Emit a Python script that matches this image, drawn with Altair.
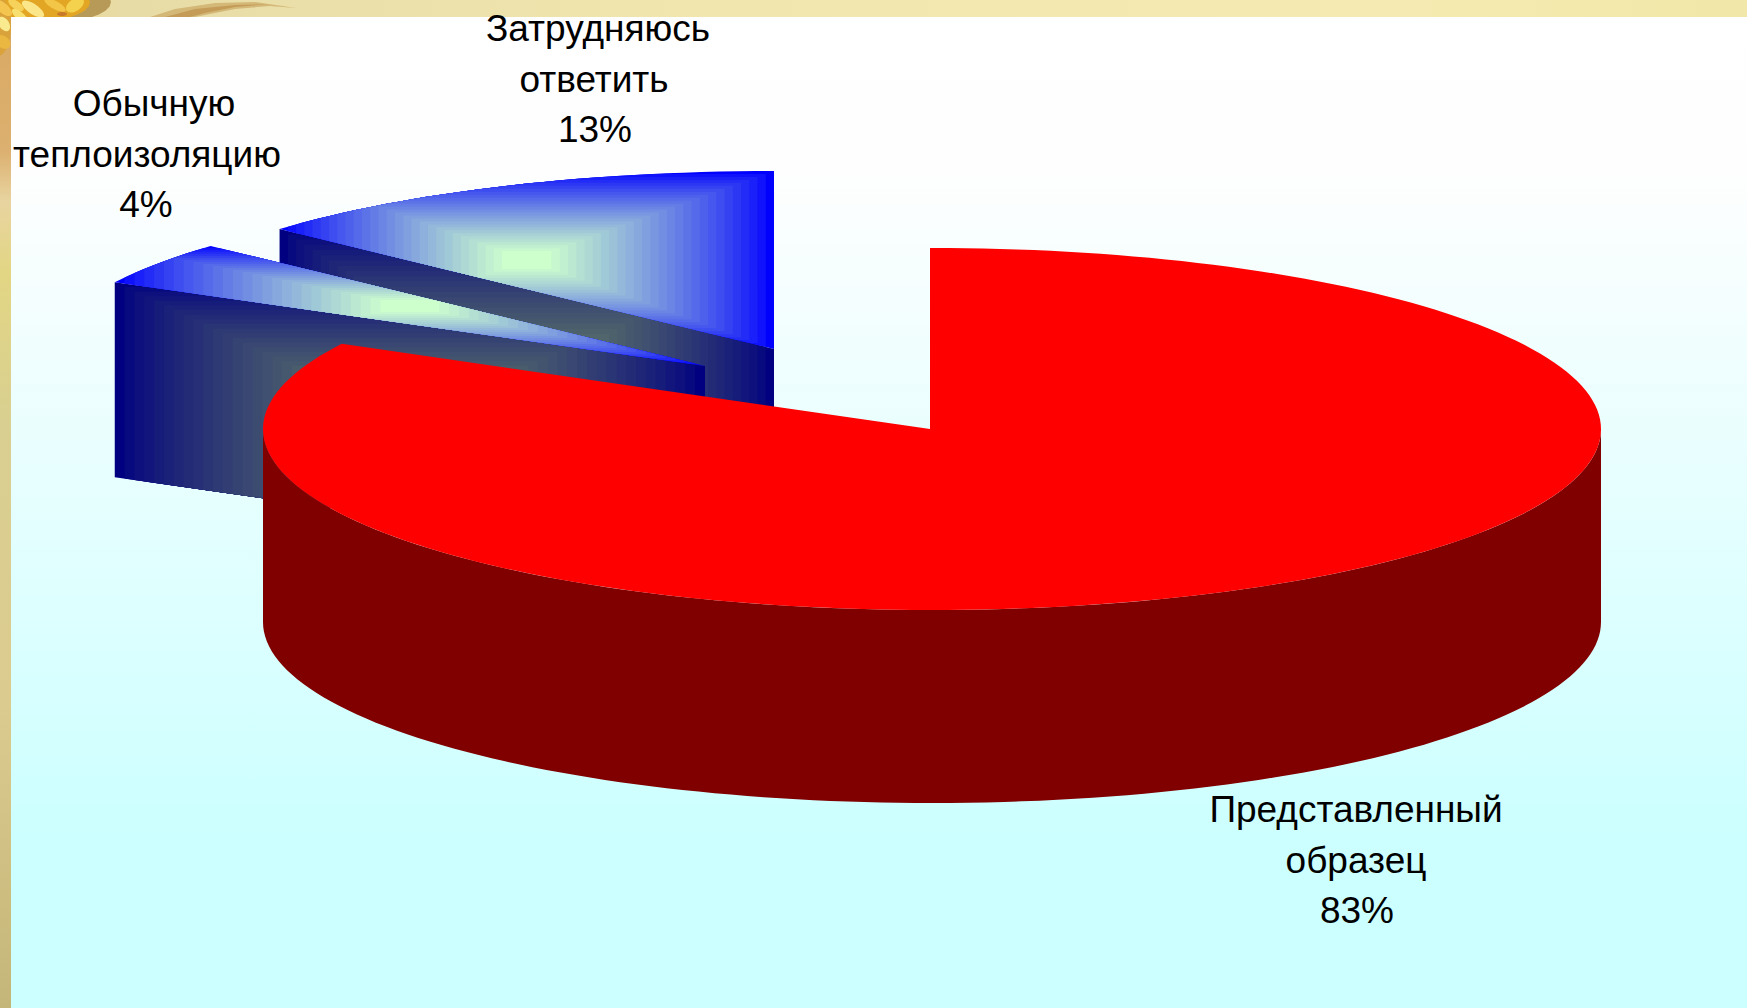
import math
import altair as alt

# Survey shares of the 3D pie, clockwise from twelve o'clock
categories = [["Представленный", "образец"], ["Обычную", "теплоизоляцию"], ["Затрудняюсь", "ответить"]]
shares = [83, 4, 13]

W, H = 1747, 1008
RX, RY, DEPTH = 669, 181, 193
RED_APEX = (930, 429)
RED_C = (932, 429)
SMALL_C = (705, 366)
BIG_C = (774, 349)
BLUE_RY, BLUE_DEPTH = 178, 195
FONT = "Liberation Sans"
PANEL_X, PANEL_Y = 11, 17


def ell(c, deg, dy=0, ry=RY):
    # Angles are foreshortened slightly by the chart's perspective
    deg = deg - 0.85 * abs(math.sin(math.radians(2 * deg)))
    a = math.radians(deg)
    return (c[0] + RX * math.sin(a), c[1] - ry * math.cos(a) + dy)


def arc(c, a0, a1, dy=0, step=1.5, ry=RY):
    n = max(2, int(abs(a1 - a0) / step))
    return [ell(c, a0 + (a1 - a0) * i / n, dy, ry) for i in range(n + 1)]


def blob(cx, cy, rx, ry, tilt=0.0, n=28):
    # Small tilted ellipse used for the decorative cob
    s, c = math.sin(tilt), math.cos(tilt)
    pts = []
    for i in range(n):
        t = 2 * math.pi * i / n
        x, y = rx * math.cos(t), ry * math.sin(t)
        pts.append((cx + x * c - y * s, cy + x * s + y * c))
    return pts


def feat(points, color=None):
    ring = [[round(x, 2), round(y, 2)] for x, y in points]
    ring.append(ring[0])
    return {"type": "Feature", "properties": {"c": color},
            "geometry": {"type": "Polygon", "coordinates": [ring]}}


def clip_rect(poly, x0, y0, x1, y1):
    # Sutherland-Hodgman against an axis-aligned rectangle
    edges = [(lambda p: p[0] >= x0, 0, x0), (lambda p: p[0] <= x1, 0, x1),
             (lambda p: p[1] >= y0, 1, y0), (lambda p: p[1] <= y1, 1, y1)]
    out = poly
    for inside, axis, val in edges:
        src, out = out, []
        for i, p in enumerate(src):
            q = src[i - 1]
            if inside(p) != inside(q):
                t = (val - q[axis]) / (p[axis] - q[axis])
                out.append((q[0] + (p[0] - q[0]) * t, q[1] + (p[1] - q[1]) * t))
            if inside(p):
                out.append(p)
        if not out:
            return []
    return out


def mix(a, b, t):
    return "#%02x%02x%02x" % tuple(round(a[i] + (b[i] - a[i]) * t) for i in range(3))


def path_gradient(poly, edge, centre, steps=30, plateau=0.9, ease=0.8):
    # Rectangular path gradient: nested bounding boxes shrinking to the centre
    xs, ys = [p[0] for p in poly], [p[1] for p in poly]
    cx, cy = (min(xs) + max(xs)) / 2, (min(ys) + max(ys)) / 2
    hw, hh = (max(xs) - min(xs)) / 2, (max(ys) - min(ys)) / 2
    feats = []
    for k in range(steps):
        t = 1 - k / steps
        part = clip_rect(poly, cx - hw * t, cy - hh * t, cx + hw * t, cy + hh * t)
        if len(part) >= 3:
            feats.append(feat(part, mix(edge, centre, min(1, (k / steps) / plateau) ** ease)))
    return feats


def shapes(features):
    return alt.Chart(alt.Data(values=features)).mark_geoshape(strokeWidth=0, stroke=None).encode(
        color=alt.Color("properties.c:N", scale=None, legend=None)
    ).project(type="identity", scale=1, translate=[0, 0])


def filled(points, fill):
    return alt.Chart(alt.Data(values=[feat(points)])).mark_geoshape(fill=fill, strokeWidth=0, stroke=None).project(
        type="identity", scale=1, translate=[0, 0])


def linear(stops, vertical=True):
    return alt.Gradient(
        gradient="linear",
        stops=[alt.GradientStop(offset=o, color=c) for o, c in stops],
        x1=0, y1=0, x2=0 if vertical else 1, y2=1 if vertical else 0,
    )


# Slice angles follow the shares
a_main = 360 * shares[0] / 100
a_small = a_main + 360 * shares[1] / 100

BLUE, MINT = (0, 0, 255), (204, 255, 204)
NAVY, SAGE = (0, 0, 128), (102, 128, 102)

big_top = [BIG_C] + arc(BIG_C, a_small, 360, ry=BLUE_RY)
big_wall = [ell(BIG_C, a_small, ry=BLUE_RY), BIG_C, (BIG_C[0], BIG_C[1] + BLUE_DEPTH), ell(BIG_C, a_small, BLUE_DEPTH, BLUE_RY)]
small_top = [SMALL_C] + arc(SMALL_C, a_main, a_small, ry=BLUE_RY)
small_wall = [ell(SMALL_C, a_main, ry=BLUE_RY), SMALL_C, (SMALL_C[0], SMALL_C[1] + BLUE_DEPTH), ell(SMALL_C, a_main, BLUE_DEPTH, BLUE_RY)]
red_top = [RED_APEX, (RED_APEX[0], RED_C[1] - RY)] + arc(RED_C, 0, a_main)
red_side = arc(RED_C, 90, 270) + arc(RED_C, 270, 90, DEPTH)

# Slide frame: straw-coloured strips, the cob and wheat ear, then the panel over them
top_strip = filled([(0, 0), (W, 0), (W, PANEL_Y), (0, PANEL_Y)],
                   linear([(0, "#e6d48e"), (0.07, "#e8dca6"), (0.4, "#f0e6ae"), (0.8, "#f5ebb2"), (1, "#f1e7a8")], vertical=False))
left_strip = filled([(0, 0), (PANEL_X, 0), (PANEL_X, H), (0, H)],
                    linear([(0, "#d9a860"), (0.15, "#dcb070"), (0.2, "#e8d4a0"), (0.27, "#e2d684"),
                            (0.42, "#d9cf90"), (0.7, "#dccb8e"), (1, "#c4b678")]))

decor = [
    feat(blob(55, 2, 56, 20), "#b89a58"),
    feat(blob(40, 2, 50, 19), "#e2a624"),
    feat(blob(-2, 26, 13, 30), "#d9a23a"),
    feat(blob(3, 8, 11, 5, 0.7), "#f4c650"),
    feat(blob(16, 5, 9, 4, 0.6), "#f6d25a"),
    feat(blob(33, 9, 13, 5, 0.6), "#fbe78a"),
    feat(blob(20, 16, 10, 4, 0.7), "#f8e070"),
    feat(blob(55, 5, 12, 4, 0.5), "#f3c648"),
    feat(blob(75, 5, 10, 6, -0.6), "#f5d24e"),
    feat(blob(4, 24, 8, 5, 1.0), "#f9ea90"),
    feat(blob(3, 42, 8, 6, 0.7), "#eab840"),
    feat(blob(62, 14, 5, 2, 0.0), "#c97a28"),
    feat([(150, 17), (175, 9), (215, 3), (255, 2), (296, 8), (270, 6), (235, 9), (210, 14), (195, 17)], "#d4b878"),
    feat([(165, 17), (195, 9), (235, 5), (270, 4), (235, 7), (205, 13), (190, 17)], "#c49c58"),
]

panel = filled([(PANEL_X, PANEL_Y), (W, PANEL_Y), (W, H), (PANEL_X, H)],
               linear([(0, "#ffffff"), (0.156, "#fefefe"), (0.83, "#ccffff"), (1, "#ccffff")]))

layers = [top_strip, left_strip, shapes(decor), panel]
layers += [shapes(path_gradient(big_wall, NAVY, SAGE)), shapes(path_gradient(big_top, BLUE, MINT))]
layers += [shapes(path_gradient(small_wall, NAVY, SAGE)), shapes(path_gradient(small_top, BLUE, MINT))]
layers += [filled(red_side, "#800000"), filled(red_top, "#ff0000")]

# Data labels: category lines followed by the percentage
anchors = [(1356, 811), (147, 105), (598, 30)]
line_shift = [[0, 0, 1], [7, 0, -1], [0, -4, -3]]
for names, share, (lx, ly), shift in zip(categories, shares, anchors, line_shift):
    for i, line in enumerate(names + [f"{share}%"]):
        layers.append(
            alt.Chart(alt.Data(values=[{"t": line}])).mark_text(
                font=FONT, fontSize=37, color="#000000", align="center", baseline="middle"
            ).encode(text="t:N", x=alt.value(lx + shift[i]), y=alt.value(ly + i * 50.5))
        )

chart = alt.layer(*layers).properties(width=W, height=H, padding=0, autosize=alt.AutoSizeParams(type="none")).configure_view(stroke=None)
chart.save("out.html", embed_options={"renderer": "svg", "actions": False})
